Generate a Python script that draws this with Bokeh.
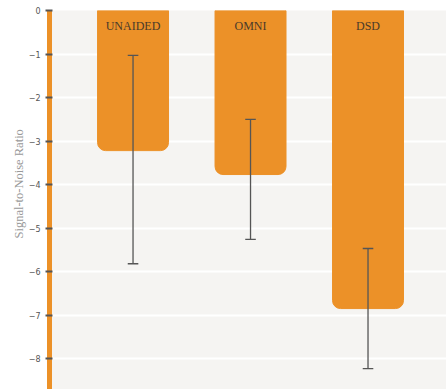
from bokeh.plotting import figure
from bokeh.models import ColumnDataSource, Range1d, FixedTicker, Title
from bokeh.core.properties import value
from bokeh.embed import file_html
from bokeh.resources import INLINE

categories = ["UNAIDED", "OMNI", "DSD"]
means = [-3.22, -3.77, -6.85]
err_upper = [-1.03, -2.50, -5.47]
err_lower = [-5.82, -5.26, -8.23]
y_ticks = [0, -1, -2, -3, -4, -5, -6, -7, -8]

xs = list(range(len(categories)))
cap = 0.045
src = ColumnDataSource(dict(x=xs, top=[0] * len(xs), bottom=means, upper=err_upper,
                            lower=err_lower, label=categories, ly=[0] * len(xs),
                            x0=[x - cap for x in xs], x1=[x + cap for x in xs]))

p = figure(width=446, height=389, output_backend="svg", toolbar_location=None,
           x_range=Range1d(-0.711, 2.668), y_range=Range1d(-8.71, 0),
           min_border_left=49, min_border_top=10, min_border_right=0, min_border_bottom=0,
           background_fill_color="#f5f4f2", border_fill_color="white", outline_line_color=None)

p.vbar(x="x", width=0.604, top="top", bottom="bottom", source=src,
       fill_color="#ec9128", line_color="#ec9128", border_radius=(0, 0, 8, 8))

p.segment(x0="x", x1="x", y0="upper", y1="lower", source=src, line_color="#555555", line_width=1.3)
p.segment(x0="x0", x1="x1", y0="upper", y1="upper", source=src, line_color="#555555", line_width=1.3)
p.segment(x0="x0", x1="x1", y0="lower", y1="lower", source=src, line_color="#555555", line_width=1.3)

p.text(x="x", y="ly", text="label", source=src, text_align="center", text_baseline="middle",
       y_offset=15, text_font=value("Liberation Serif"), text_font_size="12px", text_color="#4a3a2a")

p.xaxis.visible = False
p.xgrid.visible = False
p.ygrid.grid_line_color = "white"
p.ygrid.grid_line_width = 2
p.yaxis.ticker = FixedTicker(ticks=y_ticks)
p.yaxis.major_label_overrides = {t: ("0" if t == 0 else "\u2212" + str(-t)) for t in y_ticks}
p.yaxis.minor_tick_line_color = None
p.yaxis.axis_line_color = "#ec9128"
p.yaxis.axis_line_width = 5
p.yaxis.major_tick_line_color = "#555555"
p.yaxis.major_tick_line_width = 2
p.yaxis.major_tick_in = 3
p.yaxis.major_tick_out = 4
p.yaxis.major_label_text_font = "DejaVu Sans"
p.yaxis.major_label_text_font_size = "8px"
p.yaxis.major_label_text_color = "#555555"

t = Title(text="Signal-to-Noise Ratio", align="left", offset=151,
          text_font="Liberation Serif", text_font_style="normal",
          text_font_size="12.5px", text_color="#999999", standoff=0)
p.add_layout(t, "left")

open("out.html", "w").write(file_html(p, INLINE))
